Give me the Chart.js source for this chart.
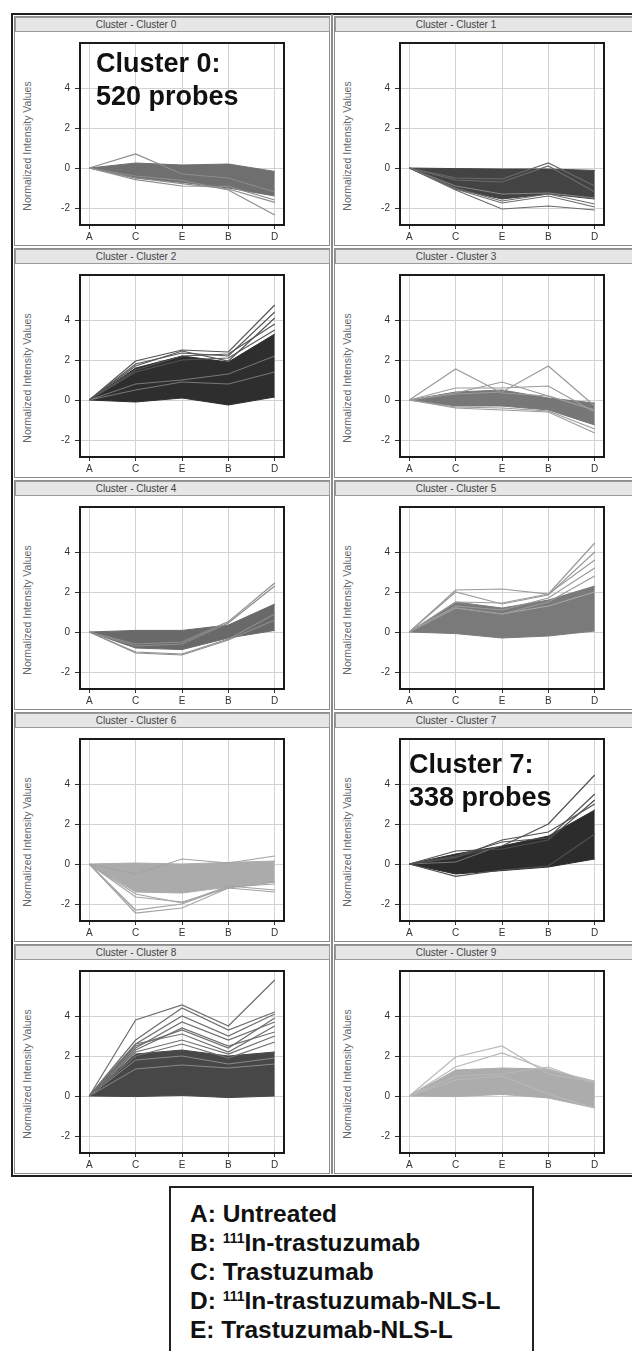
<!DOCTYPE html>
<html>
<head>
<meta charset="utf-8">
<script src="https://cdn.jsdelivr.net/npm/chart.js@4.4.1/dist/chart.umd.min.js"></script>
<style>
  body { margin: 0; width: 632px; height: 1351px; overflow: hidden; background: #fff; position: relative;
         font-family: "Liberation Sans", Arial, sans-serif; }
  .frame { position: absolute; left: 11px; top: 13px; width: 700px; height: 1160px; border: 2px solid #1e1e1e; }
  .divider { position: absolute; left: 331px; top: 14px; width: 2px; height: 1160px; background: #8a8a8a; }
  .panel { position: absolute; width: 316px; height: 230px; border: 1px solid #8c8c8c; box-sizing: border-box; }
  .head { position: absolute; height: 15px; background: #e6e6e6; border: 1px solid #999; box-sizing: border-box;
          font-size: 10px; color: #444; line-height: 13px; }
  .head span { position: absolute; left: 0; width: 240px; text-align: center; }
  canvas.plot { position: absolute; }
  .ytitle { position: absolute; width: 160px; height: 12px; line-height: 12px; font-size: 10.5px; color: #666;
            text-align: center; transform: rotate(-90deg); white-space: nowrap; }
  .note { position: absolute; font-weight: bold; font-size: 27px; line-height: 33px; color: #111; white-space: nowrap; }
  .legend { position: absolute; left: 169px; top: 1186px; width: 365px; height: 220px; border: 2px solid #222;
            box-sizing: border-box; padding: 11px 0 0 19px; font-weight: bold; font-size: 24.5px; line-height: 29px; color: #111; }
  .legend sup { font-size: 14px; line-height: 0; vertical-align: 8px; }
</style>
</head>
<body>
<div class="frame"></div>
<div class="legend">
  <div>A: Untreated</div>
  <div>B: <sup>111</sup>In-trastuzumab</div>
  <div>C: Trastuzumab</div>
  <div>D: <sup>111</sup>In-trastuzumab-NLS-L</div>
  <div>E: Trastuzumab-NLS-L</div>
</div>
<script>
// x order of the profile plots
const categories = ['A', 'C', 'E', 'B', 'D'];
const yTicks = [-2, 0, 2, 4];
const clusterNames = ['Cluster 0', 'Cluster 1', 'Cluster 2', 'Cluster 3', 'Cluster 4',
                      'Cluster 5', 'Cluster 6', 'Cluster 7', 'Cluster 8', 'Cluster 9'];

// dense mass of each cluster: upper and lower edge
const upper0 = [0, 0.25, 0.15, 0.2, -0.17];
const lower0 = [0, -0.5, -0.72, -1.0, -1.4];
const upper1 = [0, -0.03, -0.05, -0.05, -0.12];
const lower1 = [0, -1.05, -1.55, -1.3, -1.55];
const upper2 = [0, 1.6, 2.2, 1.9, 3.3];
const lower2 = [0, -0.1, 0.1, -0.25, 0.15];
const upper3 = [0, 0.4, 0.5, 0.1, -0.15];
const lower3 = [0, -0.3, -0.3, -0.5, -1.25];
const upper4 = [0, 0.08, 0.08, 0.35, 1.4];
const lower4 = [0, -0.8, -0.88, -0.3, 0.08];
const upper5 = [0, 1.5, 1.2, 1.6, 2.3];
const lower5 = [0, -0.08, -0.3, -0.2, 0.05];
const upper6 = [0, 0.05, 0.0, 0.08, 0.15];
const lower6 = [0, -1.4, -1.45, -1.15, -0.9];
const upper7 = [0, 0.5, 0.9, 1.4, 2.7];
const lower7 = [0, -0.5, -0.33, -0.15, 0.25];
const upper8 = [0, 2.1, 2.3, 2.0, 2.2];
const lower8 = [0, -0.03, 0.03, -0.08, 0];
const upper9 = [0, 1.3, 1.4, 1.35, 0.7];
const lower9 = [0, -0.03, 0.08, -0.1, -0.6];

// single probes that stand out of the mass
const lines0 = [[0, 0.7, -0.3, -0.5, -1.2], [0, -0.58, -0.9, -0.92, -1.6], [0, -0.4, -0.62, -1.1, -2.35], [0, -0.5, -0.78, -1.05, -1.72]];
const lines1 = [[0, -1.1, -2.05, -1.9, -2.1], [0, -1.05, -1.75, -1.4, -1.95], [0, -0.5, -0.55, 0.25, -0.9], [0, -0.6, -0.7, 0.1, -1.2], [0, -1.0, -1.65, -1.3, -1.8]];
const lines2 = [[0, 1.95, 2.5, 2.4, 4.75], [0, 1.8, 2.35, 2.2, 4.4], [0, 1.7, 2.45, 1.95, 4.1], [0, 1.5, 2.2, 2.3, 3.8], [0, 1.4, 2.0, 2.1, 3.5]];
const lines3 = [[0, 1.55, 0.35, 0.2, -0.5], [0, 0.3, 0.4, 1.7, -0.3], [0, 0.6, 0.6, 0.7, -0.6], [0, 0.35, 0.9, 0.2, -0.5], [0, -0.4, -0.5, -0.6, -1.65], [0, -0.35, -0.4, -0.55, -1.45]];
const lines4 = [[0, -0.6, -0.5, 0.52, 2.45], [0, -0.7, -0.6, 0.45, 2.3], [0, -1.0, -1.1, -0.35, 0.9], [0, -1.05, -1.15, -0.4, 0.6]];
const lines5 = [[0, 2.1, 2.15, 1.9, 4.45], [0, 2.0, 1.4, 1.85, 4.0], [0, 1.5, 1.45, 1.9, 3.6], [0, 1.3, 1.1, 1.7, 3.2], [0, 1.2, 0.9, 1.5, 2.8]];
const lines6 = [[0, -2.45, -2.2, -1.2, -1.4], [0, -2.3, -2.0, -1.15, -1.0], [0, -1.65, -1.9, -1.2, -0.9], [0, -0.5, 0.25, 0.05, 0.4], [0, -1.5, -1.95, -1.1, -1.3]];
const lines7 = [[0, 0.35, 0.9, 2.0, 4.45], [0, 0.4, 1.1, 1.3, 3.5], [0, 0.65, 0.75, 1.2, 3.2], [0, -0.62, -0.3, -0.1, 1.5], [0, 0.3, 1.2, 1.6, 3.0]];
const lines8 = [[0, 3.8, 4.55, 3.5, 5.8], [0, 2.8, 4.4, 3.3, 4.2], [0, 2.6, 4.0, 3.0, 4.1], [0, 2.5, 3.3, 2.4, 3.9], [0, 2.6, 3.1, 2.2, 3.5],
                [0, 2.3, 3.4, 2.5, 3.2], [0, 2.2, 2.8, 2.1, 3.0], [0, 2.0, 2.6, 1.9, 2.7], [0, 2.4, 3.7, 2.8, 3.7]];
const lines9 = [[0, 1.95, 2.5, 1.1, 0.7], [0, 1.45, 2.15, 1.3, 0.75], [0, 1.0, 1.1, 1.45, 0.6], [0, 0.8, 1.0, 0.1, -0.6]];

// lighter streaks inside the mass
const streaks1 = [[0, -0.9, -1.3, -1.25, -1.5]];
const streaks2 = [[0, 1.75, 2.3, 1.95, 3.6], [0, 0.8, 1.0, 1.3, 2.2], [0, 0.5, 0.9, 0.8, 1.4]];
const streaks5 = [[0, 1.2, 0.9, 1.3, 2.0]];
const streaks7 = [[0, 0.1, 0.95, 1.85, 3.35]];
const streaks8 = [[0, 1.35, 1.55, 1.4, 1.6], [0, 1.8, 2.0, 1.6, 1.9]];

const uppers = [upper0, upper1, upper2, upper3, upper4, upper5, upper6, upper7, upper8, upper9];
const lowers = [lower0, lower1, lower2, lower3, lower4, lower5, lower6, lower7, lower8, lower9];
const outliers = [lines0, lines1, lines2, lines3, lines4, lines5, lines6, lines7, lines8, lines9];
const streaks = [[], streaks1, streaks2, [], [], streaks5, [], streaks7, streaks8, []];

const bandColors = ['#6f6f6f', '#434343', '#2e2e2e', '#777777', '#696969', '#7a7a7a', '#ababab', '#2c2c2c', '#474747', '#acacac'];
const lineColors = ['#8c8c8c', '#6a6a6a', '#555555', '#9a9a9a', '#8e8e8e', '#9a9a9a', '#a2a2a2', '#505050', '#6e6e6e', '#b8b8b8'];

// black frame round the plot area
const boxPlugin = {
  id: 'box',
  afterDatasetsDraw(chart) {
    const { ctx, chartArea: a } = chart;
    ctx.save();
    ctx.strokeStyle = '#1a1a1a';
    ctx.lineWidth = 2;
    ctx.strokeRect(a.left, a.top, a.right - a.left, a.bottom - a.top);
    ctx.restore();
  }
};

function addDiv(cls, left, top, html) {
  const d = document.createElement('div');
  d.className = cls;
  d.style.left = left + 'px';
  d.style.top = top + 'px';
  if (html) d.innerHTML = html;
  document.body.appendChild(d);
  return d;
}

for (let i = 0; i < 10; i++) {
  const row = Math.floor(i / 2), col = i % 2;
  const px = 320 * col, py = 232 * row;

  addDiv('panel', 14 + px, 16 + py);
  const h = addDiv('head', 15 + px, 17 + py, '<span>Cluster - ' + clusterNames[i] + '</span>');
  h.style.width = '315px';
  addDiv('ytitle', 27 - 80 + px, 146 - 6 + py, 'Normalized Intensity Values');

  const canvas = document.createElement('canvas');
  canvas.className = 'plot';
  canvas.width = 315;
  canvas.height = 213;
  canvas.style.left = (15 + px) + 'px';
  canvas.style.top = (32 + py) + 'px';
  document.body.appendChild(canvas);

  const datasets = [];
  outliers[i].forEach(d => datasets.push({ data: d, borderColor: lineColors[i], borderWidth: 1.2, fill: false }));
  streaks[i].forEach(d => datasets.push({ data: d, borderColor: 'rgba(255,255,255,0.45)', borderWidth: 0.8, fill: false }));
  datasets.push({ data: lowers[i], borderColor: bandColors[i], backgroundColor: bandColors[i], borderWidth: 1, fill: false });
  datasets.push({ data: uppers[i], borderColor: bandColors[i], backgroundColor: bandColors[i], borderWidth: 1, fill: '-1' });

  new Chart(canvas, {
    type: 'line',
    data: { labels: categories.map((_, k) => k), datasets: datasets },
    options: {
      responsive: false,
      animation: false,
      layout: { padding: { top: 7, right: 46, bottom: 0, left: 0 } },
      plugins: { legend: { display: false }, tooltip: { enabled: false } },
      elements: { point: { radius: 0 }, line: { tension: 0 } },
      scales: {
        x: {
          type: 'linear', min: -0.2, max: 4.2,
          afterBuildTicks: s => { s.ticks = categories.map((_, k) => ({ value: k })); },
          afterFit: s => { s.height = 20; },
          ticks: { callback: v => categories[v], font: { size: 10 }, color: '#333', padding: 2, maxRotation: 0, autoSkip: false },
          grid: { color: '#d2d2d2', tickColor: '#333', tickLength: 4 },
          border: { display: false }
        },
        y: {
          min: -2.85, max: 6.25,
          afterBuildTicks: s => { s.ticks = yTicks.map(v => ({ value: v })); },
          afterFit: s => { s.width = 65; },
          ticks: { font: { size: 10 }, color: '#333', padding: 5 },
          grid: { color: '#d2d2d2', tickColor: '#333', tickLength: 5 },
          border: { display: false }
        }
      }
    },
    plugins: [boxPlugin]
  });
}

addDiv('divider', 331, 14);
addDiv('note', 96, 47, 'Cluster 0:<br>520 probes');
addDiv('note', 409, 748, 'Cluster 7:<br>338 probes');
</script>
</body>
</html>
